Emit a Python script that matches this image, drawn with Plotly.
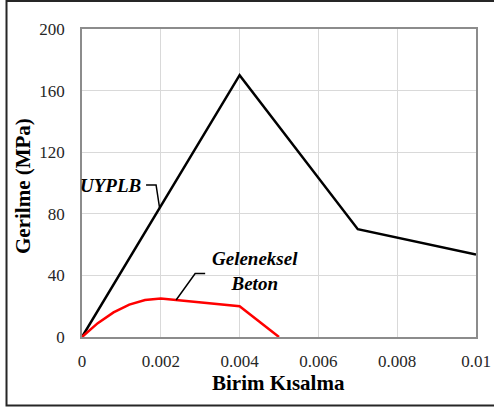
import plotly.graph_objects as go

# Stress-strain data
uyplb_strain = [0.0, 0.004, 0.007, 0.010]
uyplb_stress = [0.0, 170.0, 70.0, 53.5]

beton_strain = [0.0, 0.0004, 0.0008, 0.0012, 0.0016, 0.002, 0.004, 0.005]
beton_stress = [0.0, 9.0, 16.0, 21.0, 24.0, 25.0, 20.0, 0.0]

x_ticks = [0, 0.002, 0.004, 0.006, 0.008, 0.01]
x_tick_text = ["0", "0.002", "0.004", "0.006", "0.008", "0.01"]
y_ticks = [0, 40, 80, 120, 160, 200]

SERIF = "Liberation Serif, Times New Roman, serif"

fig = go.Figure()
fig.add_trace(go.Scatter(x=uyplb_strain, y=uyplb_stress, mode="lines",
                         line=dict(color="#000000", width=2.5), name="UYPLB"))
fig.add_trace(go.Scatter(x=beton_strain, y=beton_stress, mode="lines",
                         line=dict(color="#ff0000", width=2.5), name="Geleneksel Beton"))

axis_common = dict(showgrid=True, gridcolor="#d9d9d9", gridwidth=1.3,
                   zeroline=False, showline=True, linecolor="#8c8c8c", linewidth=1.5,
                   mirror=True, ticks="", tickfont=dict(family=SERIF, size=17, color="#262626"))

fig.update_xaxes(range=[0, 0.01], tickvals=x_ticks, ticktext=x_tick_text,
                 ticklabelstandoff=8, ticklabeloverflow="allow", automargin=False, **axis_common)
fig.update_yaxes(range=[0, 200], tickvals=y_ticks, ticklabelstandoff=12, automargin=False,
                 **axis_common)

annotations = [
    dict(text="<b>Birim Kısalma</b>", xref="paper", yref="paper", x=0.498, y=-0.15,
         showarrow=False, font=dict(family=SERIF, size=21, color="#000000"),
         xanchor="center", yanchor="middle"),
    dict(text="<b>Gerilme (MPa)</b>", xref="paper", yref="paper", x=-0.15, y=0.49,
         showarrow=False, textangle=-90, font=dict(family=SERIF, size=21, color="#000000"),
         xanchor="center", yanchor="middle"),
    dict(text="<b><i>UYPLB</i></b>", xref="x", yref="y", x=0.00154, y=98.5,
         showarrow=False, font=dict(family=SERIF, size=19, color="#000000"),
         xanchor="right", yanchor="middle"),
    dict(text="<b><i>Geleneksel<br>Beton</i></b>", xref="x", yref="y", x=0.00440, y=43.0,
         showarrow=False, font=dict(family=SERIF, size=19, color="#000000"),
         xanchor="center", yanchor="middle", align="center"),
]

shapes = [
    # leader lines for the curve labels
    dict(type="path", xref="x", yref="y",
         path="M 0.001626,98.7 L 0.00188,98.7 L 0.00197,83.7",
         line=dict(color="#000000", width=1.5)),
    dict(type="path", xref="x", yref="y",
         path="M 0.003126,41.2 L 0.002872,41.2 L 0.002389,24.0",
         line=dict(color="#000000", width=1.5)),
    # outer frame (left, top and bottom edges), kept inside the figure
    dict(type="path", xref="paper", yref="paper",
         path="M 1.0457,-0.2224 L -0.1916,-0.2224 L -0.1916,1.0909 L 1.0457,1.0909",
         line=dict(color="#262626", width=2), layer="above"),
]

fig.update_layout(
    width=495, height=414,
    margin=dict(l=82, r=19, t=29, b=77),
    paper_bgcolor="#ffffff", plot_bgcolor="#ffffff",
    showlegend=False,
    annotations=annotations,
    shapes=shapes,
)

fig.write_html("out.html")
